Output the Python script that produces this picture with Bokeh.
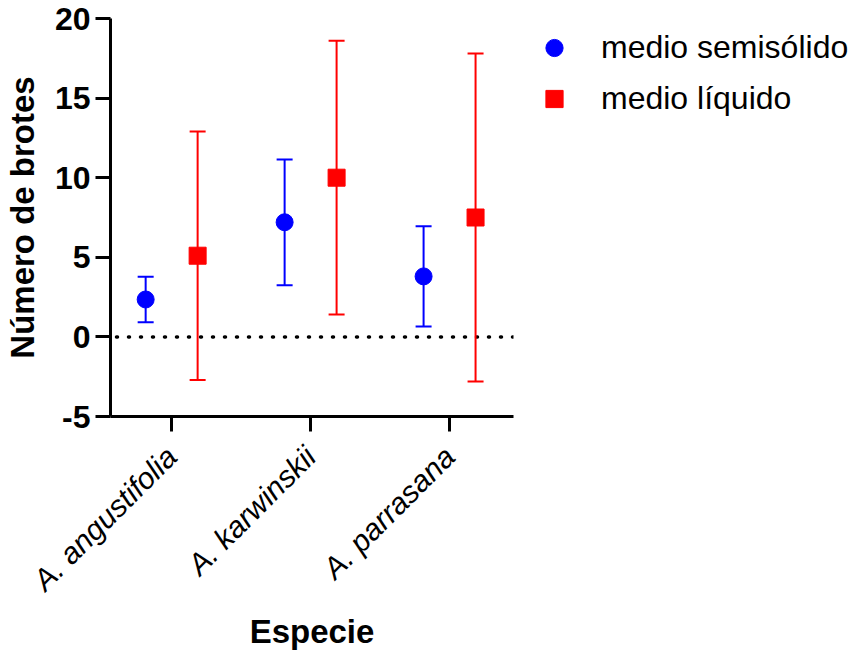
import math
import numpy as np
from bokeh.plotting import figure
from bokeh.models import (Range1d, FixedTicker, Whisker, TeeHead, ColumnDataSource,
                          Span, Legend, LegendItem)
from bokeh.transform import dodge
from bokeh.embed import file_html
from bokeh.resources import INLINE

# ---- data ----
species = ["A. angustifolia", "A. karwinskii", "A. parrasana"]
series = ["medio semisólido", "medio líquido"]
semi_mean = [2.35, 7.2, 3.8]
semi_sd = [1.43, 3.95, 3.15]
liq_mean = [5.1, 10.0, 7.5]
liq_sd = [7.8, 8.6, 10.3]
y_ticks = [-5, 0, 5, 10, 15, 20]
x_title = "Especie"
y_title = "Número de brotes"

FONT = "Liberation Sans"
BLUE = "#0000FF"
RED = "#FF0000"

pos = list(range(len(species)))

def make_src(means, sds):
    return ColumnDataSource(dict(
        x=pos, y=means,
        lo=[m - s for m, s in zip(means, sds)],
        hi=[m + s for m, s in zip(means, sds)],
    ))

src_semi = make_src(semi_mean, semi_sd)
src_liq = make_src(liq_mean, liq_sd)

p = figure(frame_width=403, frame_height=398,
           x_range=Range1d(-0.44, 2.46), y_range=Range1d(-5, 20),
           output_backend="svg", toolbar_location=None,
           min_border_top=18, min_border_right=10, min_border_left=10,
           min_border_bottom=0)
p.outline_line_color = None
p.xgrid.visible = False
p.ygrid.visible = False
p.background_fill_color = None
p.border_fill_color = None

# axes
for ax in (p.xaxis[0], p.yaxis[0]):
    ax.axis_line_width = 3
    ax.axis_line_color = "black"
    ax.major_tick_line_width = 3
    ax.major_tick_line_color = "black"
    ax.major_tick_out = 15
    ax.major_tick_in = 0
    ax.minor_tick_line_color = None
    ax.major_label_text_font = FONT
    ax.major_label_text_color = "black"
    ax.axis_label_text_font = FONT
    ax.axis_label_text_font_style = "bold"
    ax.axis_label_text_font_size = "33px"
    ax.axis_label_text_color = "black"

p.yaxis.ticker = FixedTicker(ticks=y_ticks)
p.yaxis.major_label_overrides = {t: str(t) for t in y_ticks}
p.yaxis.major_label_text_font_size = "32px"
p.yaxis.major_label_text_font_style = "bold"
p.yaxis.major_label_standoff = 5
p.yaxis.axis_label = y_title
p.yaxis.axis_label_standoff = 11

p.xaxis.ticker = FixedTicker(ticks=pos)
p.xaxis.major_label_overrides = {i: s for i, s in enumerate(species)}
p.xaxis.major_label_orientation = math.pi / 4
p.xaxis.major_label_text_font_size = "30px"
p.xaxis.major_label_text_font_style = "italic"
p.xaxis.major_label_standoff = 20
p.xaxis.axis_label = x_title
p.xaxis.axis_label_standoff = 2

# zero line
p.add_layout(Span(location=0, dimension="width", line_color="black",
                  line_width=3.5, line_dash="1 11", line_cap="round",
                  line_dash_offset=-6, level="underlay"))

OFF = 0.187
renderers = []
for src, col, marker, off in ((src_semi, BLUE, "circle", -OFF), (src_liq, RED, "square", OFF)):
    w = Whisker(base=dodge("x", off, range=p.x_range), lower="lo", upper="hi", source=src,
                line_color=col, line_width=2,
                lower_head=TeeHead(size=16, line_color=col, line_width=2),
                upper_head=TeeHead(size=16, line_color=col, line_width=2))
    p.add_layout(w)
    r = p.scatter(x=dodge("x", off, range=p.x_range), y="y", source=src,
                  marker=marker, size=17, fill_color=col, line_color=col)
    renderers.append(r)

legend = Legend(items=[LegendItem(label=series[0], renderers=[renderers[0]]),
                       LegendItem(label=series[1], renderers=[renderers[1]])],
                location="top_left", margin=8, padding=0,
                glyph_width=66, glyph_height=43, label_standoff=14, spacing=8,
                label_text_font=FONT, label_text_font_size="32px",
                label_text_color="black", border_line_color=None,
                background_fill_alpha=0)
p.add_layout(legend, "right")

open("out.html", "w").write(file_html(p, INLINE))
